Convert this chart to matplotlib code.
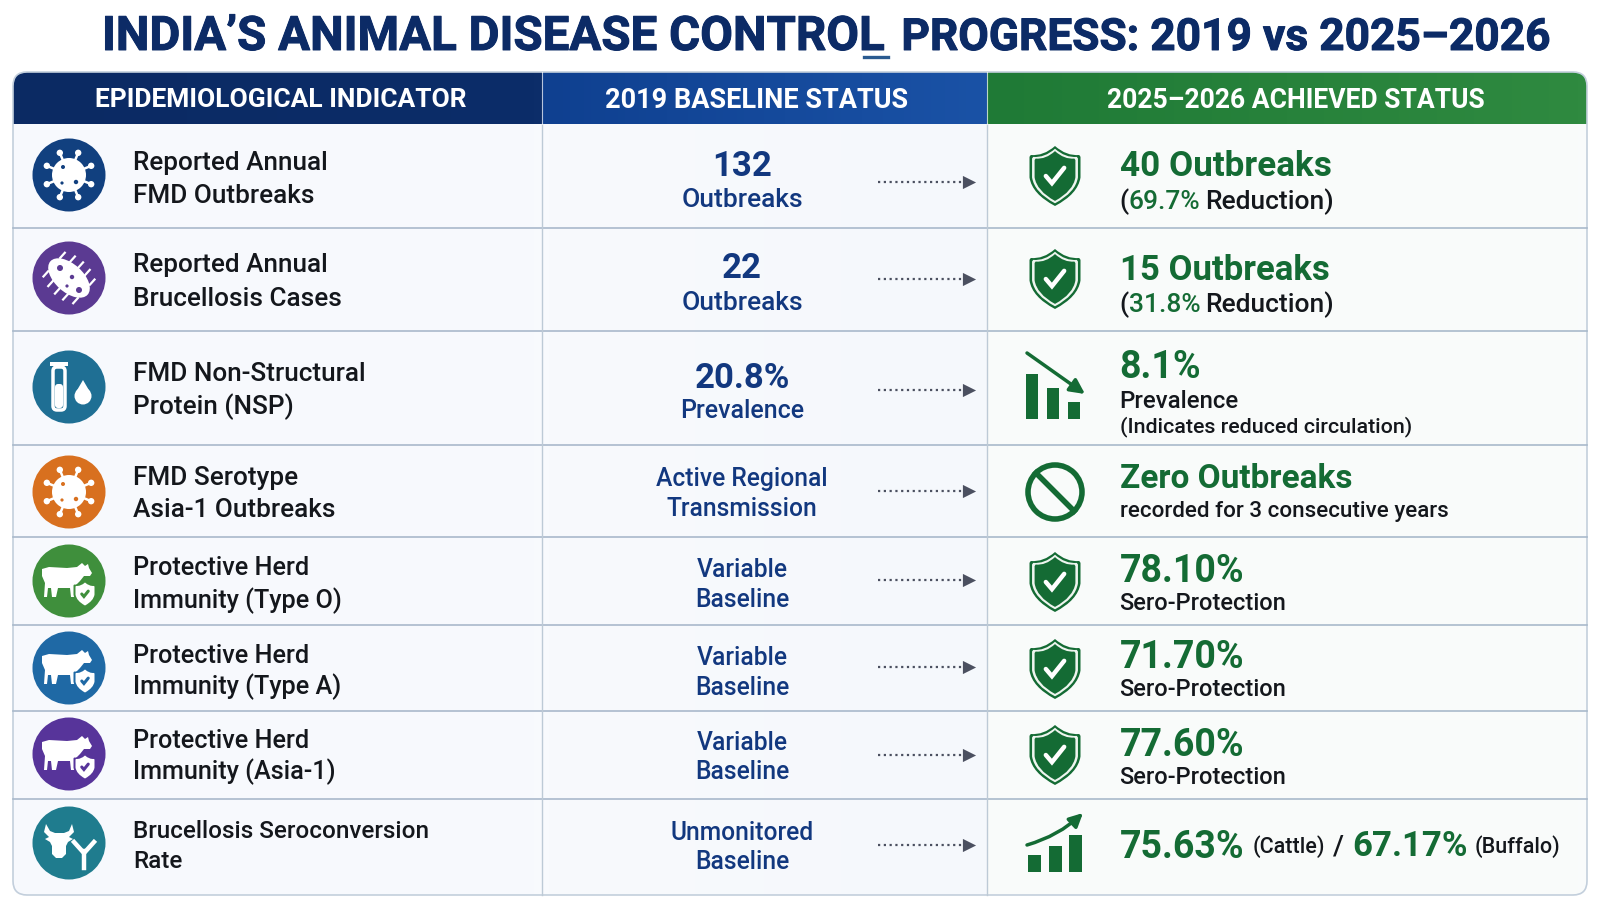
import numpy as np
import matplotlib
matplotlib.use('Agg')
import matplotlib.pyplot as plt
import matplotlib.patheffects as pe
from matplotlib.patches import Circle, Ellipse, FancyBboxPatch, PathPatch, Polygon, Rectangle
from matplotlib.path import Path
from matplotlib.transforms import Affine2D

plt.rcParams['font.family'] = ['Roboto', 'DejaVu Sans']

# ---------------------------- contenido ----------------------------
title_left = "INDIA\u2019S ANIMAL DISEASE CONTROL"
title_right = "PROGRESS: 2019 vs 2025\u20132026"
headers = ["EPIDEMIOLOGICAL INDICATOR", "2019 BASELINE STATUS", "2025\u20132026 ACHIEVED STATUS"]

indicators = [
    ["Reported Annual", "FMD Outbreaks"],
    ["Reported Annual", "Brucellosis Cases"],
    ["FMD Non-Structural", "Protein (NSP)"],
    ["FMD Serotype", "Asia-1 Outbreaks"],
    ["Protective Herd", "Immunity (Type O)"],
    ["Protective Herd", "Immunity (Type A)"],
    ["Protective Herd", "Immunity (Asia-1)"],
    ["Brucellosis Seroconversion", "Rate"],
]
baseline_top = ["132", "22", "20.8%", "Active Regional", "Variable", "Variable", "Variable", "Unmonitored"]
baseline_bottom = ["Outbreaks", "Outbreaks", "Prevalence", "Transmission", "Baseline", "Baseline", "Baseline", "Baseline"]
achieved_main = ["40 Outbreaks", "15 Outbreaks", "8.1%", "Zero Outbreaks", "78.10%", "71.70%", "77.60%"]
icon_kinds = ["virus", "bacteria", "tube", "virus", "cow", "cow", "cow", "bull"]
icon_colors = ["#11407f", "#5b3a92", "#1f6f94", "#d8701f", "#3f8f3c", "#1f69a5", "#57349a", "#1f7c8e"]
status_kinds = ["shield", "shield", "down", "no", "shield", "shield", "shield", "up"]

# ---------------------------- layout (px) ----------------------------
row_edges = [124, 228, 331, 445, 537, 625, 711, 799, 895]
col_edges = [13, 542, 987, 1587]
icon_y = [175, 278, 387, 492, 581, 668, 754, 843]
label_y = [(163, 196), (265, 299), (374, 407), (478, 510), (568, 601), (656, 687), (741, 772), (831, 862)]
label_size = [18.8, 18.8, 18.8, 18.8, 18.2, 18.2, 18.2, 17.5]
base_y = [(166, 200), (269, 303), (378, 411), (479, 509), (570, 600), (658, 688), (743, 772), (833, 862)]
arrow_y = [182, 279, 390, 491, 580, 667, 755, 845]
main_y = [167, 271, 368, 479, 571, 658, 745]
main_size = [25.3, 25, 27, 24, 27, 27, 27]
sub_y = [202, 305, 401, 511, 604, 690, 777]
x_right = 1119.5

NAVY = '#0c2b66'
BLUE = '#12387f'
GREEN = '#146b34'
DARK = '#14171c'

fig = plt.figure(figsize=(16, 9.14), dpi=100, facecolor='white')
ax = fig.add_axes([0, 0, 1, 1])
ax.set_xlim(0, 1600)
ax.set_ylim(914, 0)
ax.axis('off')


def gradient(x0, x1, y0, y1, c0, c1, clip):
    rgb0 = np.array(matplotlib.colors.to_rgb(c0))
    rgb1 = np.array(matplotlib.colors.to_rgb(c1))
    t = np.linspace(0, 1, 64)[None, :, None]
    img = rgb0 + (rgb1 - rgb0) * t
    im = ax.imshow(img, extent=(x0, x1, y1, y0), aspect='auto', zorder=1)
    im.set_clip_path(clip)


def runs(x, y, pieces):
    # texto con varios colores en una misma linea
    r = fig.canvas.get_renderer()
    for txt, size, col, weight, gap in pieces:
        t = ax.text(x, y, txt, fontsize=size, color=col, fontweight=weight, va='center', ha='left', zorder=5)
        x = t.get_window_extent(r).x1 + gap


def shield_path(cx, cy, w, h):
    v = [(0, -1), (0.45, -0.66), (0.95, -0.7), (1, -0.64), (1, 0.05), (0.9, 0.6), (0, 1),
         (-0.9, 0.6), (-1, 0.05), (-1, -0.64), (-0.95, -0.7), (-0.45, -0.66), (0, -1), (0, -1)]
    c = [Path.MOVETO, Path.CURVE3, Path.CURVE3, Path.LINETO, Path.LINETO, Path.CURVE3, Path.CURVE3,
         Path.CURVE3, Path.CURVE3, Path.LINETO, Path.LINETO, Path.CURVE3, Path.CURVE3, Path.CLOSEPOLY]
    p = Path(np.array(v, dtype=float), c)
    return p.transformed(Affine2D().scale(w / 2, h / 2).translate(cx, cy))


def check(cx, cy, s, col, lw):
    ax.plot([cx - 9 * s, cx - 3 * s, cx + 9 * s], [cy + 0 * s, cy + 7 * s, cy - 8 * s],
            color=col, lw=lw, zorder=7, solid_capstyle='round', solid_joinstyle='miter')


def shield(cx, cy, w, h):
    ax.add_patch(PathPatch(shield_path(cx, cy, w, h), fc=GREEN, ec='none', zorder=5))
    ax.add_patch(PathPatch(shield_path(cx, cy, w * 0.9, h * 0.91), fc='#eef5ef', ec='none', zorder=5))
    ax.add_patch(PathPatch(shield_path(cx, cy, w * 0.8, h * 0.83), fc=GREEN, ec='none', zorder=5))
    check(cx, cy, w / 50, 'white', 3.2)


def virus(cx, cy, col):
    for a in np.radians(np.arange(0, 360, 45) + 22.5):
        ca, sa = np.cos(a), np.sin(a)
        ax.plot([cx + 13 * ca, cx + 23 * ca], [cy + 13 * sa, cy + 23 * sa], color='white', lw=1.8, zorder=5)
        ax.add_patch(Circle((cx + 24 * ca, cy + 24 * sa), 3.2, fc='white', ec='none', zorder=5))
    ax.add_patch(Circle((cx, cy), 17, fc='white', ec='none', zorder=5))
    for dx, dy, r in [(-6, -8, 2.0), (7, 7, 2.2), (-7, 8, 1.6)]:
        ax.add_patch(Circle((cx + dx, cy + dy), r, fc=col, ec='none', zorder=6))


def bacteria(cx, cy, col):
    a0 = np.radians(42)
    for u in [-20, -10, 0, 10, 20]:
        for side in [-1, 1]:
            b = 14 * np.sqrt(1 - (u / 26) ** 2)
            x0 = cx + u * np.cos(a0) - side * b * np.sin(a0)
            y0 = cy + u * np.sin(a0) + side * b * np.cos(a0)
            x1 = x0 - side * 7 * np.sin(a0)
            y1 = y0 + side * 7 * np.cos(a0)
            ax.plot([x0, x1], [y0, y1], color='white', lw=1.6, zorder=5)
    ax.add_patch(Ellipse((cx, cy), 50, 28, angle=42, fc='white', ec='none', zorder=5))
    for dx, dy, r in [(-9, -10, 3), (3, -1, 2.2), (10, 12, 3), (-2, 8, 1.6)]:
        ax.add_patch(Circle((cx + dx, cy + dy), r, fc=col, ec='none', zorder=6))


def tube(cx, cy, col):
    ax.add_patch(FancyBboxPatch((cx - 16, cy - 20), 12, 43, boxstyle='round,pad=0,rounding_size=4',
                                fc=col, ec='white', lw=2.5, zorder=5))
    ax.add_patch(Rectangle((cx - 19, cy - 25), 18, 4, fc='white', ec='none', zorder=5))
    ax.add_patch(FancyBboxPatch((cx - 14, cy - 3), 8, 24, boxstyle='round,pad=0,rounding_size=3',
                                fc='white', ec='none', zorder=6))
    ax.add_patch(Polygon([(cx + 14, cy - 7), (cx + 7, cy + 5), (cx + 21, cy + 5)], fc='white', ec='none', zorder=5))
    ax.add_patch(Circle((cx + 14, cy + 9), 8.5, fc='white', ec='none', zorder=5))


def cow(cx, cy, col):
    body = [(-27, -12), (-20, -14), (-2, -13), (8, -14), (13, -18), (16, -15), (19, -17), (20, -13), (23, -8),
            (21, -5), (15, -5), (11, 0), (6, 5), (6, 16), (2, 16), (1, 7), (-11, 7), (-13, 16), (-17, 16),
            (-18, 7), (-21, 7), (-22, 16), (-25, 16), (-24, 2), (-27, -5)]
    ax.add_patch(Polygon([(cx + x, cy + y) for x, y in body], fc='white', ec='none', zorder=5))
    ax.add_patch(PathPatch(shield_path(cx + 16, cy + 13, 23, 27), fc=col, ec='none', zorder=6))
    ax.add_patch(PathPatch(shield_path(cx + 16, cy + 13, 19, 23), fc='white', ec='none', zorder=6))
    check(cx + 16, cy + 13, 0.36, col, 2.2)


def bull(cx, cy, col):
    head = [(-23, -19), (-19, -12), (-14, -10), (-5, -10), (0, -12), (3, -19), (5, -11), (0, -6), (4, -4), (-1, -1),
            (-3, 3), (-3, 11), (-7, 15), (-13, 15), (-17, 11), (-17, 3), (-19, -1), (-24, -4), (-20, -6), (-25, -11)]
    ax.add_patch(Polygon([(cx + x, cy + y) for x, y in head], fc='white', ec='none', zorder=5))
    for a, b in [((15, 8), (15, 25)), ((14, 9), (5, -1)), ((16, 9), (25, -1))]:
        ax.plot([cx + a[0], cx + b[0]], [cy + a[1], cy + b[1]], color='white', lw=3.2, zorder=5)


def bars_down(cx, cy):
    for x0, top in [(-29, -16), (-8, -2), (13, 12)]:
        ax.add_patch(Rectangle((cx + x0, cy + top), 12, 29 - top, fc=GREEN, ec='none', zorder=5))
    ax.annotate('', xy=(cx + 30, cy + 4), xytext=(cx - 28, cy - 37), zorder=6,
                arrowprops=dict(arrowstyle='-|>', color=GREEN, lw=2.5, mutation_scale=22, shrinkA=0, shrinkB=0))


def bars_up(cx, cy):
    for x0, top in [(-27, 12), (-6, 3), (14, -8)]:
        ax.add_patch(Rectangle((cx + x0, cy + top), 13, 29 - top, fc=GREEN, ec='none', zorder=5))
    ax.annotate('', xy=(cx + 28, cy - 30), xytext=(cx - 28, cy + 2), zorder=6,
                arrowprops=dict(arrowstyle='-|>', color=GREEN, lw=2.5, mutation_scale=20, shrinkA=0, shrinkB=0,
                                connectionstyle='arc3,rad=0.12'))


def no_sign(cx, cy):
    ax.add_patch(Circle((cx, cy), 27, fc='none', ec=GREEN, lw=4, zorder=5))
    ax.plot([cx - 19, cx + 19], [cy - 19, cy + 19], color=GREEN, lw=4, zorder=5)


# ---------------------------- tarjeta ----------------------------
card = FancyBboxPatch((col_edges[0], 72), col_edges[-1] - col_edges[0], row_edges[-1] - 72,
                      boxstyle='round,pad=0,rounding_size=14', fc='#f7f9fc', ec='none', zorder=0)
ax.add_patch(card)

gradient(col_edges[0], col_edges[1], row_edges[0], row_edges[-1], '#f7f9fd', '#f8fafd', card)
gradient(col_edges[1], col_edges[2], row_edges[0], row_edges[-1], '#f8fafd', '#f5f8fc', card)
gradient(col_edges[2], col_edges[3], row_edges[0], row_edges[-1], '#f9fbfa', '#f9fbfb', card)
gradient(col_edges[0], col_edges[1], 72, row_edges[0], '#0b2a63', '#0c2d69', card)
gradient(col_edges[1], col_edges[2], 72, row_edges[0], '#0f4090', '#1a52a6', card)
gradient(col_edges[2], col_edges[3], 72, row_edges[0], '#1f7a36', '#2f8a40', card)

ax.add_patch(FancyBboxPatch((col_edges[0], 72), col_edges[-1] - col_edges[0], row_edges[-1] - 72,
                            boxstyle='round,pad=0,rounding_size=14', fc='none', ec='#c3cfdc', lw=1.2, zorder=3))
for y in row_edges[1:-1]:
    ax.plot([col_edges[0], col_edges[-1]], [y, y], color='#a9b9cb', lw=1.2, zorder=3)
for x in col_edges[1:-1]:
    ax.plot([x, x], [row_edges[0], row_edges[-1]], color='#bdcad6', lw=1, zorder=3)
    ax.plot([x, x], [72, row_edges[0]], color='white', lw=0.8, alpha=0.7, zorder=3)

# ---------------------------- titulo y cabeceras ----------------------------
t1 = ax.text(102, 50, title_left, fontsize=34.2, fontweight='bold', color=NAVY, ha='left', va='baseline', zorder=5)
t2 = ax.text(1549, 50, title_right, fontsize=31.9, fontweight='bold', color=NAVY, ha='right', va='baseline', zorder=5)
for t in [t1, t2]:
    t.set_path_effects([pe.withStroke(linewidth=0.7, foreground=NAVY)])
ax.plot([864, 888], [57, 57], color='#2a5a90', lw=2.4, zorder=5)

header_sizes = [19, 19.5, 19.1]
header_x = [281, 757, 1296]
for i, h in enumerate(headers):
    ax.text(header_x[i], 100, h, fontsize=header_sizes[i], fontweight='bold', color='white',
            ha='center', va='center', zorder=5)

# ---------------------------- filas ----------------------------
for i in range(8):
    cy = icon_y[i]
    ax.add_patch(Circle((69, cy), 36.5, fc=icon_colors[i], ec='none', zorder=4))
    if icon_kinds[i] == 'virus':
        virus(69, cy, icon_colors[i])
    elif icon_kinds[i] == 'bacteria':
        bacteria(69, cy, icon_colors[i])
    elif icon_kinds[i] == 'tube':
        tube(69, cy, icon_colors[i])
    elif icon_kinds[i] == 'cow':
        cow(69, cy, icon_colors[i])
    else:
        bull(69, cy, icon_colors[i])

    for line, y in zip(indicators[i], label_y[i]):
        ax.text(133, y, line, fontsize=label_size[i], fontweight='medium', color=DARK, ha='left', va='center', zorder=5)

    big = i < 3
    ax.text(742, base_y[i][0], baseline_top[i], fontsize=25 if big else 17.7, fontweight='bold' if big else 'medium',
            color=BLUE, ha='center', va='center', zorder=5)
    ax.text(742, base_y[i][1], baseline_bottom[i], fontsize=(18 if i == 2 else 19) if big else 17.7, fontweight='medium',
            color=BLUE, ha='center', va='center', zorder=5)

    ax.plot([878, 964], [arrow_y[i], arrow_y[i]], color='#4b5060', lw=1.6, ls=(0, (1, 1.6)), zorder=5)
    ax.scatter([969], [arrow_y[i]], marker='>', s=90, color='#4b5060', linewidths=0, zorder=5)

    if status_kinds[i] == 'shield':
        shield(1055, cy + 1, 51, 60)
    elif status_kinds[i] == 'down':
        bars_down(1055, cy + 3)
    elif status_kinds[i] == 'no':
        no_sign(1055, cy)
    else:
        bars_up(1055, cy)

    if i < 7:
        ax.text(x_right, main_y[i], achieved_main[i], fontsize=main_size[i], fontweight='bold', color=GREEN,
                ha='left', va='center', zorder=5)

runs(x_right, sub_y[0], [("(", 19, DARK, 'medium', 0), ("69.7%", 19, GREEN, 'medium', 5), ("Reduction)", 19, DARK, 'medium', 0)])
runs(x_right, sub_y[1], [("(", 19, DARK, 'medium', 0), ("31.8%", 19, GREEN, 'medium', 5), ("Reduction)", 19, DARK, 'medium', 0)])
ax.text(x_right, sub_y[2], "Prevalence", fontsize=17.3, fontweight='medium', color=DARK, va='center', zorder=5)
ax.text(x_right, 427, "(Indicates reduced circulation)", fontsize=15.4, fontweight='medium', color=DARK, va='center', zorder=5)
ax.text(x_right, sub_y[3], "recorded for 3 consecutive years", fontsize=16.1, fontweight='medium', color=DARK, va='center', zorder=5)
for k in [4, 5, 6]:
    ax.text(x_right, sub_y[k], "Sero-Protection", fontsize=17, fontweight='medium', color=DARK, va='center', zorder=5)

runs(x_right, 847, [("75.63%", 27, GREEN, 'bold', 8), ("(Cattle)", 15.5, DARK, 'medium', 8), ("/", 20, DARK, 'medium', 9),
                    ("67.17%", 25, GREEN, 'bold', 7), ("(Buffalo)", 15.5, DARK, 'medium', 0)])

fig.savefig('out.png', dpi=100)
